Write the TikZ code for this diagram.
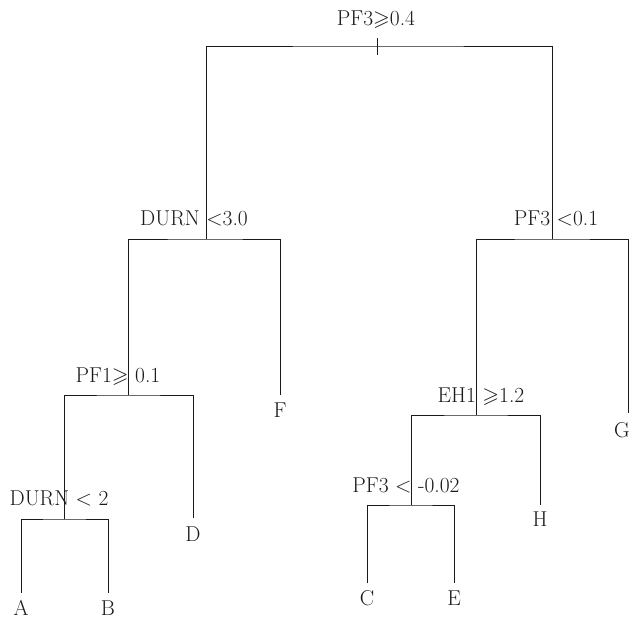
\documentclass[tikz,border=0pt]{standalone}
\usepackage{amssymb}
\usepackage{xcolor}
\usepackage{tikz}
\definecolor{ink}{HTML}{1A1A1A}
\tikzset{
  edge/.style={draw=ink, line width=0.9pt, line cap=butt},
  splitlab/.style={text=ink, font=\fontsize{21.5}{26}\selectfont, anchor=base, inner sep=0pt},
  leaflab/.style={text=ink, font=\fontsize{21.5}{26}\selectfont, anchor=base, inner sep=0pt},
}
\begin{document}
\begin{tikzpicture}[x=1pt,y=-1pt]
  \useasboundingbox (0,0) rectangle (632,619);
  % split points
  \coordinate (root) at (377,46);
  \coordinate (n1) at (206,239);
  \coordinate (n2) at (552,239);
  \coordinate (n3) at (128,395);
  \coordinate (n4) at (64,519);
  \coordinate (n5) at (476,415);
  \coordinate (n6) at (411,505);
  % leaf tips
  \coordinate (tA) at (21,593);
  \coordinate (tB) at (108,593);
  \coordinate (tC) at (367,583);
  \coordinate (tD) at (193,518);
  \coordinate (tE) at (454,583);
  \coordinate (tF) at (280,395);
  \coordinate (tG) at (628,413);
  \coordinate (tH) at (540,505);

  % branches
  \foreach \S/\L/\R in {root/n1/n2,n1/n3/tF,n3/n4/tD,n4/tA/tB,n2/n5/tG,n5/n6/tH,n6/tC/tE}{
    \draw[edge] (\L) |- (\S) -| (\R);
  }
  \draw[edge] ([yshift=8]root) -- ([yshift=-9]root);

  % split labels
  \node[splitlab] (lroot) at (376,25) {PF3$\geqslant$0.4};
  \node[splitlab] (ln1) at (194,225) {DURN <3.0};
  \node[splitlab] (ln2) at (556,225) {PF3 <0.1};
  \node[splitlab] (ln3) at (118,382) {PF1$\geqslant$ 0.1};
  \node[splitlab] (ln4) at (59,505) {DURN < 2};
  \node[splitlab] (ln5) at (481,402) {EH1 $\geqslant$1.2};
  \node[splitlab] (ln6) at (406,492) {PF3 < -0.02};

  % leaf labels
  \foreach \X/\px/\py in {A/21/615,B/108/615,C/367/605,D/193/541,E/454/605,F/280/417,G/622/437,H/540/526}{
    \node[leaflab] (leaf\X) at (\px,\py) {\X};
  }
\end{tikzpicture}
\end{document}
